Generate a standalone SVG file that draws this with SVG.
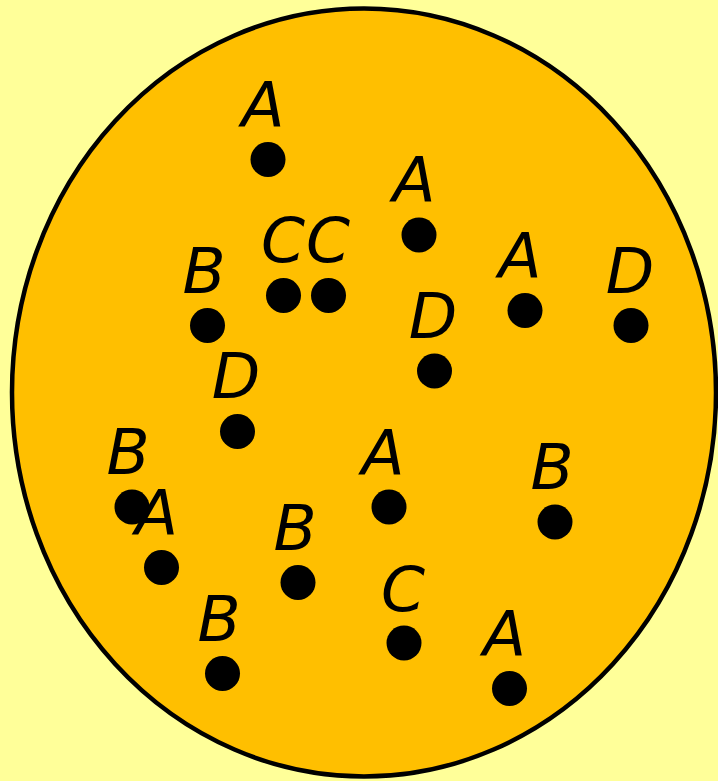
<svg xmlns="http://www.w3.org/2000/svg" width="718" height="781" viewBox="0 0 718 781">
<style>
.bg{fill:#FFFF99}
.set{fill:#FFBF00;stroke:#000;stroke-width:4.5}
.dot{fill:#000}
.lbl{font-family:"DejaVu Sans",sans-serif;font-style:oblique;font-size:63px;fill:#000;text-anchor:middle}
</style>
<rect class="bg" x="0" y="0" width="718" height="781"/>
<ellipse id="set" class="set" cx="364" cy="392.5" rx="352" ry="384"/>
<g id="n1"><circle class="dot" cx="268" cy="159.5" r="17.5"/><text class="lbl" x="263" y="126.5">A</text></g>
<g id="n2"><circle class="dot" cx="419" cy="235" r="17.5"/><text class="lbl" x="414" y="202">A</text></g>
<g id="n3"><circle class="dot" cx="283.5" cy="295.5" r="17.5"/><text class="lbl" x="283" y="262">C</text></g>
<g id="n4"><circle class="dot" cx="328.5" cy="295.5" r="17.5"/><text class="lbl" x="328" y="262">C</text></g>
<g id="n5"><circle class="dot" cx="207.5" cy="325.5" r="17.5"/><text class="lbl" x="204" y="292.5">B</text></g>
<g id="n6"><circle class="dot" cx="525" cy="310.5" r="17.5"/><text class="lbl" x="520" y="277.5">A</text></g>
<g id="n7"><circle class="dot" cx="631" cy="325.5" r="17.5"/><text class="lbl" x="630" y="292.5">D</text></g>
<g id="n8"><circle class="dot" cx="434.5" cy="371" r="17.5"/><text class="lbl" x="433" y="338">D</text></g>
<g id="n9"><circle class="dot" cx="237.5" cy="431.5" r="17.5"/><text class="lbl" x="236" y="398">D</text></g>
<g id="n10"><circle class="dot" cx="132" cy="507" r="17.5"/><text class="lbl" x="128" y="474">B</text></g>
<g id="n11"><circle class="dot" cx="389" cy="507" r="17.5"/><text class="lbl" x="383" y="474.5">A</text></g>
<g id="n12"><circle class="dot" cx="555" cy="522" r="17.5"/><text class="lbl" x="552" y="489">B</text></g>
<g id="n13"><circle class="dot" cx="161.5" cy="567.5" r="17.5"/><text class="lbl" x="156.5" y="534.5">A</text></g>
<g id="n14"><circle class="dot" cx="298" cy="582.5" r="17.5"/><text class="lbl" x="295" y="549.5">B</text></g>
<g id="n15"><circle class="dot" cx="222.5" cy="673.5" r="17.5"/><text class="lbl" x="219" y="640.5">B</text></g>
<g id="n16"><circle class="dot" cx="404" cy="643" r="17.5"/><text class="lbl" x="403" y="610.5">C</text></g>
<g id="n17"><circle class="dot" cx="509.5" cy="688.5" r="17.5"/><text class="lbl" x="504.5" y="656">A</text></g>
</svg>
